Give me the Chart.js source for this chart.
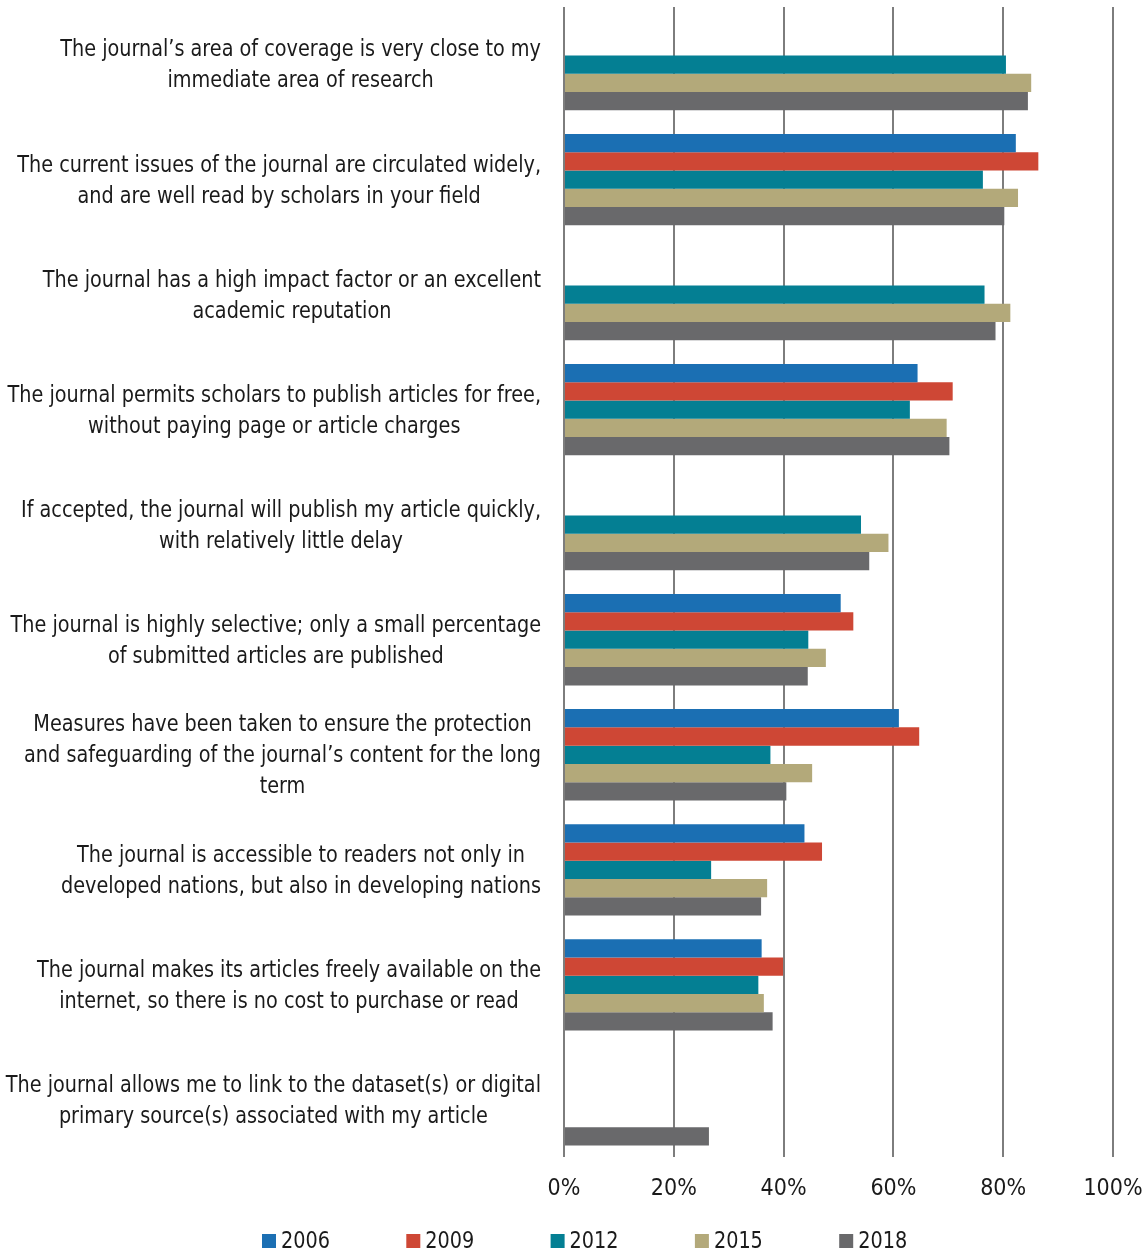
<!DOCTYPE html>
<html>
<head>
<meta charset="utf-8">
<script src="https://cdn.jsdelivr.net/npm/chart.js@4/dist/chart.umd.min.js"></script>
<style>
  html, body { margin: 0; padding: 0; background: #fff; }
  #wrap { width: 1148px; height: 1253px; }
</style>
</head>
<body>
<div id="wrap"><canvas id="myBarChart"></canvas></div>
<script>
let categories = [
  ['The journal\u2019s area of coverage is very close to my', 'immediate area of research'],
  ['The current issues of the journal are circulated widely,', 'and are well read by scholars in your field'],
  ['The journal has a high impact factor or an excellent', 'academic reputation'],
  ['The journal permits scholars to publish articles for free,', 'without paying page or article charges'],
  ['If accepted, the journal will publish my article quickly,', 'with relatively little delay'],
  ['The journal is highly selective; only a small percentage', 'of submitted articles are published'],
  ['Measures have been taken to ensure the protection', 'and safeguarding of the journal\u2019s content for the long', 'term'],
  ['The journal is accessible to readers not only in', 'developed nations, but also in developing nations'],
  ['The journal makes its articles freely available on the', 'internet, so there is no cost to purchase or read'],
  ['The journal allows me to link to the dataset(s) or digital', 'primary source(s) associated with my article']
];

let years = ['2006', '2009', '2012', '2015', '2018'];

let v2006 = [null, 82.3, null, 64.4, null, 50.4, 61.0, 43.8, 36.0, null];
let v2009 = [null, 86.4, null, 70.8, null, 52.7, 64.7, 47.0, 39.9, null];
let v2012 = [80.5, 76.3, 76.6, 63.0, 54.1, 44.5, 37.6, 26.8, 35.4, null];
let v2015 = [85.1, 82.7, 81.3, 69.7, 59.1, 47.7, 45.2, 37.0, 36.4, null];
let v2018 = [84.5, 80.2, 78.6, 70.2, 55.6, 44.4, 40.5, 35.9, 38.0, 26.4];

let tickLabels = ['0%', '20%', '40%', '60%', '80%', '100%'];

let colors = ['#1B6FB3', '#CE4735', '#047F93', '#B3A97A', '#69696B'];

let fontFamily = '"Liberation Sans Narrow", "DejaVu Sans Condensed", "Arial Narrow", sans-serif';
let textColor = '#1a1a1a';
let squeeze = 0.93;

let series = [v2006, v2009, v2012, v2015, v2018];

// category labels: block right aligned, lines centred inside the block
let labelPlugin = {
  id: 'labelPlugin',
  afterDraw(chart) {
    let ctx = chart.ctx;
    let y = chart.scales.y;
    ctx.save();
    ctx.font = '23px ' + fontFamily;
    ctx.fillStyle = textColor;
    ctx.textAlign = 'center';
    ctx.textBaseline = 'middle';
    categories.forEach((lines, i) => {
      let maxW = Math.max(...lines.map(l => ctx.measureText(l).width)) * squeeze;
      let cx = 541 - maxW / 2;
      let cy = y.getPixelForValue(i) + 1.5;
      let lh = 31;
      lines.forEach((l, j) => {
        ctx.save();
        ctx.translate(cx, cy + (j - (lines.length - 1) / 2) * lh);
        ctx.scale(squeeze, 1);
        ctx.fillText(l, 0, 0);
        ctx.restore();
      });
    });

    // legend
    ctx.textAlign = 'left';
    chart.data.datasets.forEach((ds, i) => {
      let x0 = 262 + i * 144.3;
      ctx.fillStyle = ds.backgroundColor;
      ctx.fillRect(x0, 1234, 14, 14);
      ctx.fillStyle = textColor;
      ctx.save();
      ctx.translate(x0 + 19, 1242);
      ctx.scale(squeeze, 1);
      ctx.fillText(ds.label, 0, 0);
      ctx.restore();
    });
    ctx.restore();
  }
};

let ctx = document.getElementById('myBarChart').getContext('2d');
let myBarChart = new Chart(ctx, {
  type: 'bar',
  data: {
    labels: categories.map(c => c.join(' ')),
    datasets: years.map((yr, i) => ({
      label: yr,
      data: series[i],
      backgroundColor: colors[i],
      borderWidth: 0,
      categoryPercentage: 0.794,
      barPercentage: 1.0
    }))
  },
  options: {
    indexAxis: 'y',
    responsive: true,
    maintainAspectRatio: false,
    animation: false,
    layout: { padding: { top: 7, right: 35, bottom: 32, left: 0 } },
    plugins: {
      legend: { display: false },
      tooltip: { enabled: false }
    },
    scales: {
      x: {
        min: 0,
        max: 100,
        z: 1,
        border: { display: false },
        grid: { color: '#7d7d7d', lineWidth: 2, drawTicks: false },
        ticks: {
          stepSize: 20,
          padding: 18,
          color: textColor,
          font: { family: fontFamily, size: 23 },
          callback: (v, i) => tickLabels[i]
        },
        afterFit: s => { s.paddingLeft = 0; s.paddingRight = 0; }
      },
      y: {
        border: { display: false },
        grid: { display: false },
        ticks: { display: false },
        afterFit: s => { s.width = 564; }
      }
    }
  },
  plugins: [labelPlugin]
});
</script>
</body>
</html>
